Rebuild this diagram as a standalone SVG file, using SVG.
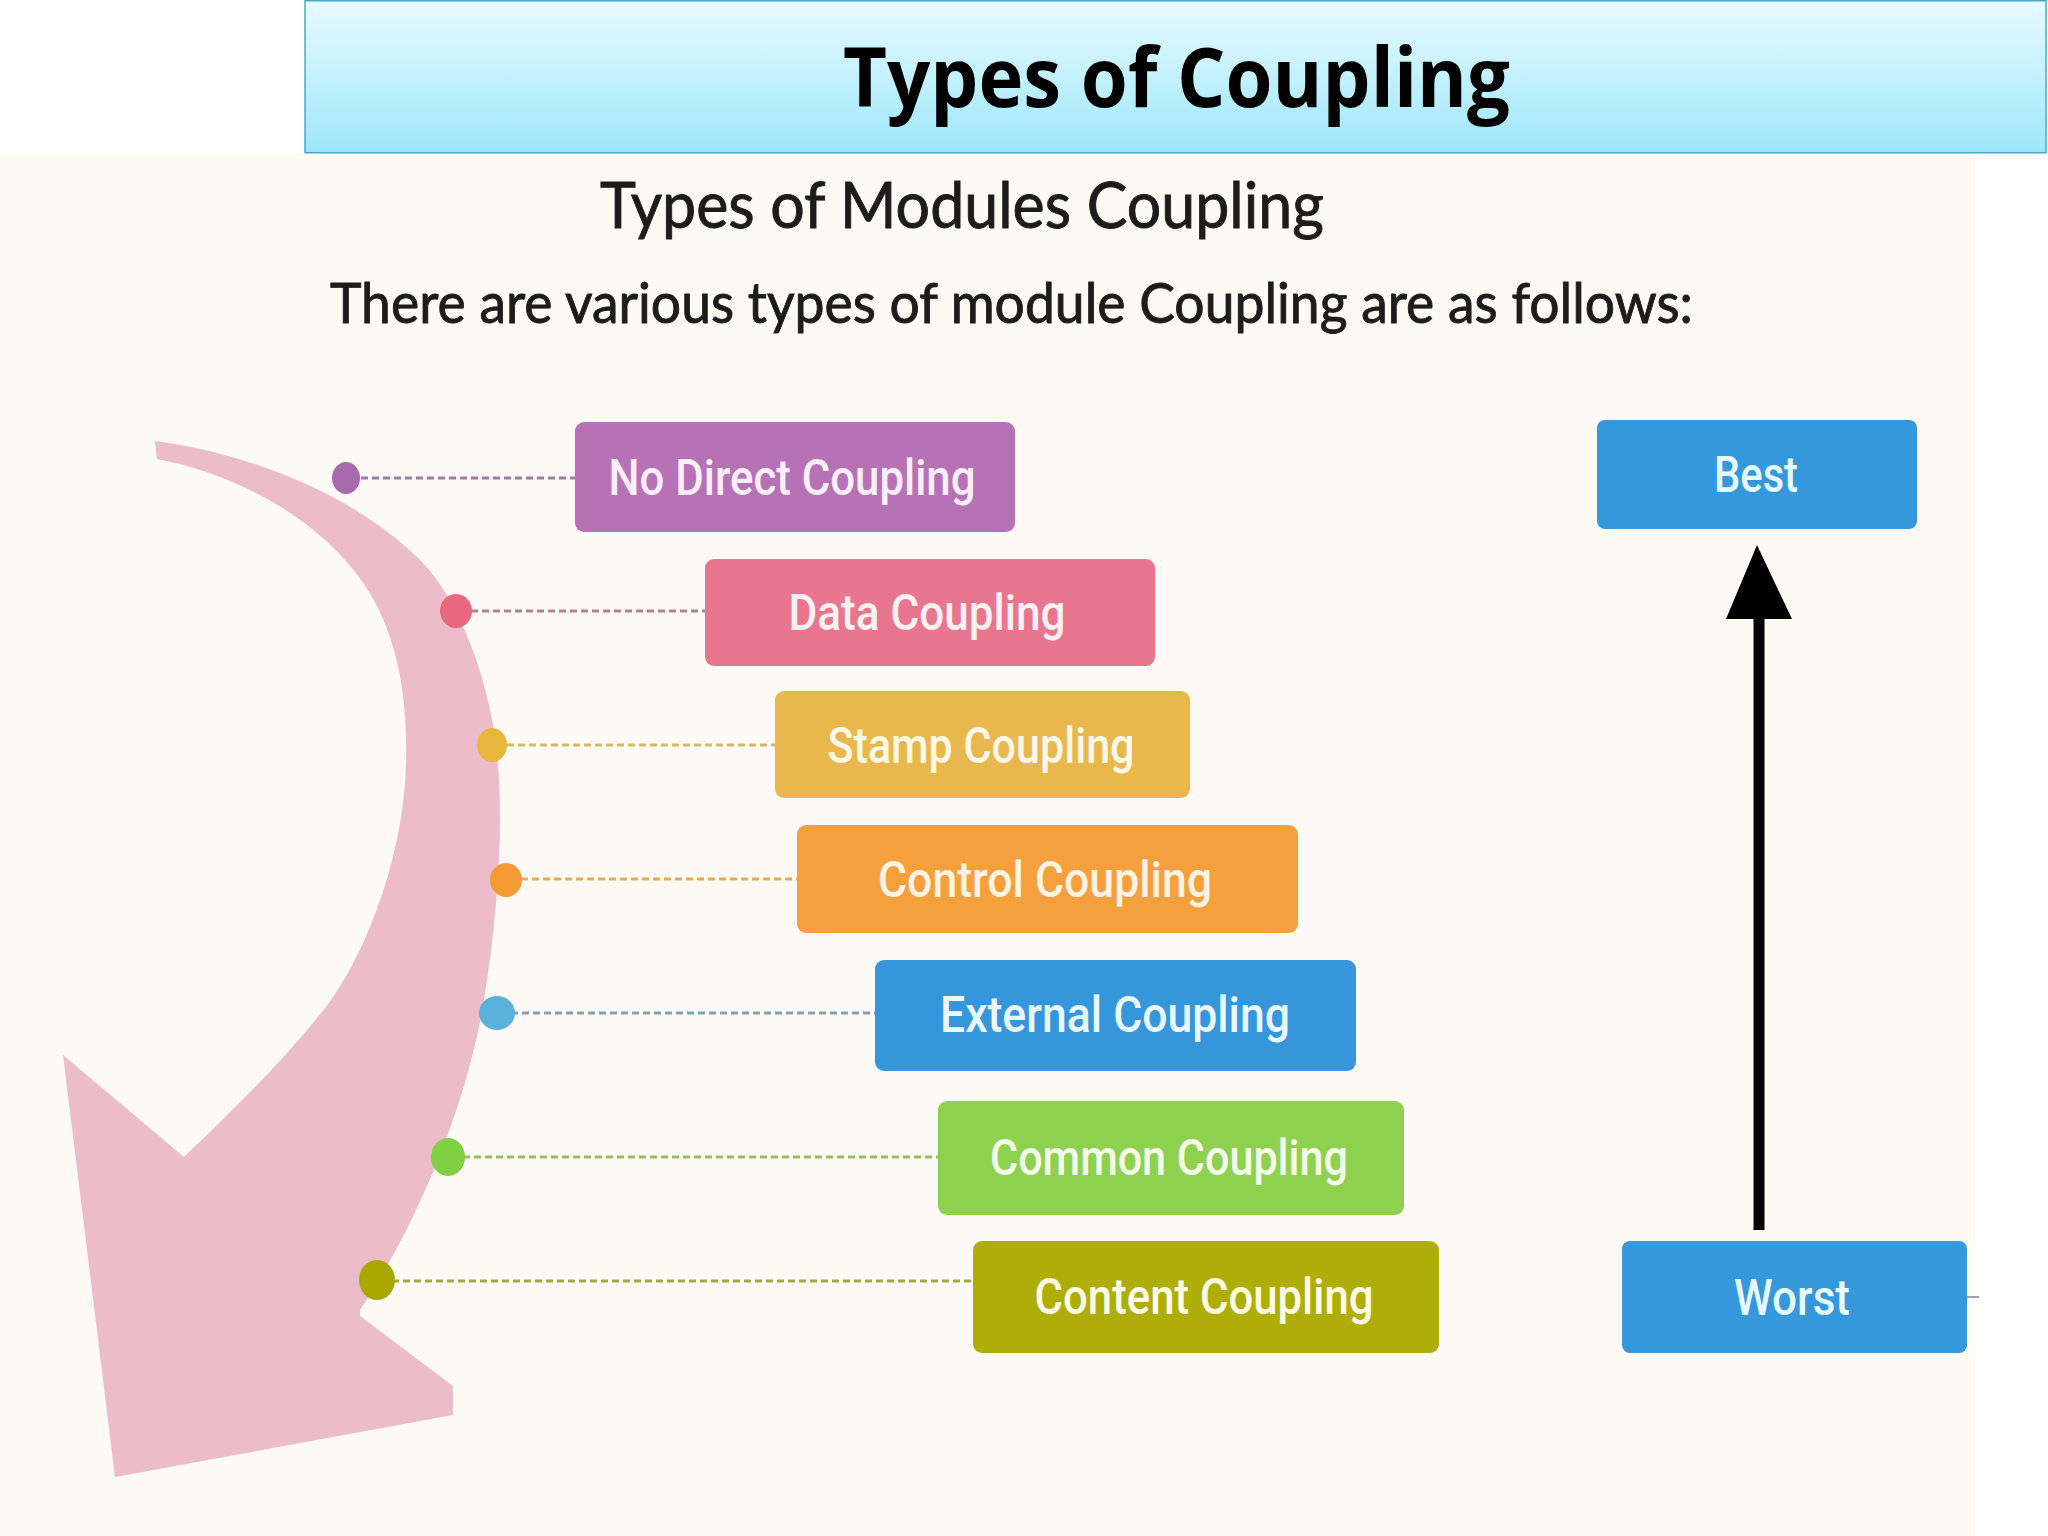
<svg xmlns="http://www.w3.org/2000/svg" width="2048" height="1536" viewBox="0 0 2048 1536">
  <defs>
    <linearGradient id="titleGrad" x1="0" y1="0" x2="0" y2="1">
      <stop offset="0" stop-color="#e8fbfe"/>
      <stop offset="1" stop-color="#9de7fb"/>
    </linearGradient>
    <style>
      .title { font-family: "Open Sans", "Liberation Sans", sans-serif; font-weight: 700; font-size: 82px; fill: #000; }
      .head { font-family: Lato, "Liberation Sans", sans-serif; fill: #1c1c1c; stroke: #1c1c1c; stroke-width: 0.9; }
      .box { stroke: none; }
      .lbl { font-family: Roboto, "Liberation Sans", sans-serif; font-weight: 500; font-size: 50px; text-anchor: middle; }
      .dash { stroke-width: 3; stroke-dasharray: 7 4; fill: none; }
    </style>
  </defs>

  <rect x="0" y="0" width="2048" height="1536" fill="#ffffff"/>
  <rect x="0" y="153" width="1975" height="1383" fill="#fdfaf5"/>

  <g id="title">
    <rect x="305" y="0.75" width="1741" height="152" fill="url(#titleGrad)" stroke="#4ea6c8" stroke-width="1.5"/>
    <text class="title" x="843" y="107" textLength="667" lengthAdjust="spacingAndGlyphs">Types of Coupling</text>
  </g>

  <g id="headings">
    <text class="head" x="600" y="228" font-size="64" textLength="724" lengthAdjust="spacingAndGlyphs">Types of Modules Coupling</text>
    <text class="head" x="330" y="323" font-size="56" textLength="1363" lengthAdjust="spacingAndGlyphs">There are various types of module Coupling are as follows:</text>
  </g>

  <g id="curved-arrow">
    <path fill="#ecbcca" d="M155,441 C240,452 350,490 421,561 C460,600 488,680 496,744 C504,810 500,900 484,1000 C468,1100 420,1220 360,1310 L360,1316 L453,1386 L453,1415 L115,1477 L63,1055 L184,1157 C230,1113 290,1055 331,1000 C370,945 404,850 406,764 C408,690 395,630 364,584 C320,520 240,475 157,459 Z"/>
  </g>

  <g id="connectors">
    <line class="dash" x1="350" y1="478" x2="575" y2="478" stroke="#9e7b9f"/>
    <line class="dash" x1="460" y1="611" x2="705" y2="611" stroke="#b9808c"/>
    <line class="dash" x1="496" y1="745" x2="775" y2="745" stroke="#dfb462"/>
    <line class="dash" x1="510" y1="879" x2="797" y2="879" stroke="#e8a858"/>
    <line class="dash" x1="500" y1="1013" x2="875" y2="1013" stroke="#7fa2b6"/>
    <line class="dash" x1="452" y1="1157" x2="938" y2="1157" stroke="#9bb865"/>
    <line class="dash" x1="381" y1="1281" x2="973" y2="1281" stroke="#a9a640"/>
    <ellipse cx="346" cy="478" rx="14" ry="16" fill="#a96aad"/>
    <ellipse cx="456" cy="611" rx="16" ry="17" fill="#e8687f"/>
    <ellipse cx="492" cy="745" rx="15" ry="17" fill="#e9b63d"/>
    <ellipse cx="506" cy="880" rx="16" ry="17" fill="#f59a35"/>
    <ellipse cx="497" cy="1013" rx="18" ry="17" fill="#5ab2da"/>
    <ellipse cx="448" cy="1157" rx="17" ry="19" fill="#80d043"/>
    <ellipse cx="377" cy="1280" rx="18" ry="20" fill="#a9a800"/>
    <line x1="1759" y1="618" x2="1759" y2="1230" stroke="#000" stroke-width="11"/>
    <polygon points="1757,545 1792,619 1726,619" fill="#000"/>
    <line x1="1967" y1="1297" x2="1979" y2="1297" stroke="#9aa7b0" stroke-width="2"/>
  </g>

  <g id="node-no-direct">
    <rect class="box" x="575" y="422" width="440" height="110" rx="9" fill="#b772b6"/>
    <text class="lbl" x="792" y="495" fill="#fbeefc" textLength="367" lengthAdjust="spacingAndGlyphs">No Direct Coupling</text>
  </g>
  <g id="node-data">
    <rect class="box" x="705" y="559" width="450" height="107" rx="9" fill="#e8768f"/>
    <text class="lbl" x="927" y="630" fill="#fdf0f2" textLength="277" lengthAdjust="spacingAndGlyphs">Data Coupling</text>
  </g>
  <g id="node-stamp">
    <rect class="box" x="775" y="691" width="415" height="107" rx="9" fill="#e9b84c"/>
    <text class="lbl" x="981" y="763" fill="#fdf7ea" textLength="307" lengthAdjust="spacingAndGlyphs">Stamp Coupling</text>
  </g>
  <g id="node-control">
    <rect class="box" x="797" y="825" width="501" height="108" rx="9" fill="#f6a03d"/>
    <text class="lbl" x="1045" y="897" fill="#fdf3e4" textLength="334" lengthAdjust="spacingAndGlyphs">Control Coupling</text>
  </g>
  <g id="node-external">
    <rect class="box" x="875" y="960" width="481" height="111" rx="9" fill="#3596dc"/>
    <text class="lbl" x="1115" y="1032" fill="#eaf8fd" textLength="350" lengthAdjust="spacingAndGlyphs">External Coupling</text>
  </g>
  <g id="node-common">
    <rect class="box" x="938" y="1101" width="466" height="114" rx="9" fill="#8ed14e"/>
    <text class="lbl" x="1169" y="1175" fill="#f4fdea" textLength="358" lengthAdjust="spacingAndGlyphs">Common Coupling</text>
  </g>
  <g id="node-content">
    <rect class="box" x="973" y="1241" width="466" height="112" rx="9" fill="#afae08"/>
    <text class="lbl" x="1204" y="1314" fill="#fbfbe6" textLength="339" lengthAdjust="spacingAndGlyphs">Content Coupling</text>
  </g>
  <g id="node-best">
    <rect class="box" x="1597" y="420" width="320" height="109" rx="8" fill="#3597dc"/>
    <text class="lbl" x="1756" y="492" fill="#e6fbfd" textLength="84" lengthAdjust="spacingAndGlyphs">Best</text>
  </g>
  <g id="node-worst">
    <rect class="box" x="1622" y="1241" width="345" height="112" rx="8" fill="#3597dc"/>
    <text class="lbl" x="1792" y="1315" fill="#e6fbfd" textLength="116" lengthAdjust="spacingAndGlyphs">Worst</text>
  </g>
</svg>
